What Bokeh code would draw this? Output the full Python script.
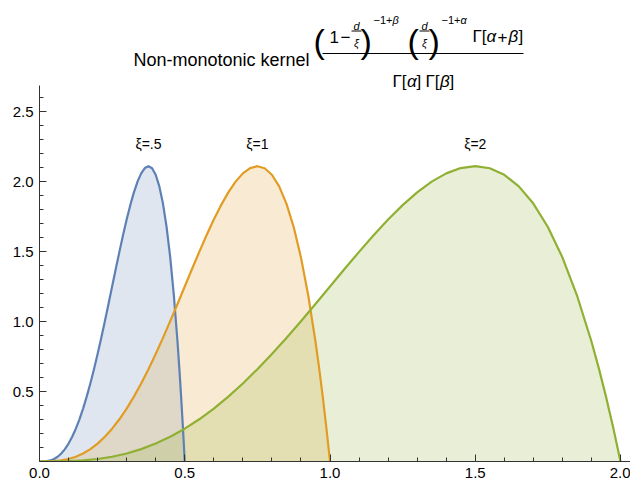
from bokeh.plotting import figure
from bokeh.models import Range1d, FixedTicker, PrintfTickFormatter, ColumnDataSource
from bokeh.embed import file_html
from bokeh.resources import INLINE
from bokeh.core.properties import value

# ---- data ----
xi_values = [0.5, 1.0, 2.0]
xi_labels = ["ξ=.5", "ξ=1", "ξ=2"]
line_colors = ["#5E81B5", "#E19C24", "#8FB032"]
label_y = 2.27
peak_fraction = 0.75

# sampling positions as a fraction of xi, and kernel heights
u = [0.0, 0.025, 0.05, 0.075, 0.1, 0.125, 0.15, 0.175, 0.2, 0.225, 0.25, 0.275,
     0.3, 0.325, 0.35, 0.375, 0.4, 0.425, 0.45, 0.475, 0.5, 0.525, 0.55, 0.575,
     0.6, 0.625, 0.65, 0.675, 0.7, 0.725, 0.75, 0.775, 0.8, 0.825, 0.85, 0.875,
     0.9, 0.925, 0.95, 0.9625, 0.975, 0.9875, 1.0]
kernel = [0.0, 0.0003, 0.0024, 0.0078, 0.018, 0.0342, 0.0574, 0.0884, 0.128, 0.1766,
          0.2344, 0.3016, 0.378, 0.4634, 0.5574, 0.6592, 0.768, 0.8828, 1.0024, 1.1253,
          1.25, 1.3747, 1.4974, 1.6159, 1.728, 1.8311, 1.9224, 1.9991, 2.058, 2.0959,
          2.1094, 2.0947, 2.048, 1.9653, 1.8424, 1.6748, 1.458, 1.1872, 0.8574, 0.6688,
          0.4634, 0.2407, 0.0]

x_ticks = [0.0, 0.5, 1.0, 1.5, 2.0]
x_minor = [0.1, 0.2, 0.3, 0.4, 0.6, 0.7, 0.8, 0.9, 1.1, 1.2, 1.3, 1.4, 1.6, 1.7, 1.8, 1.9]
y_ticks = [0.5, 1.0, 1.5, 2.0, 2.5]
y_minor = [0.1, 0.2, 0.3, 0.4, 0.6, 0.7, 0.8, 0.9, 1.1, 1.2, 1.3, 1.4, 1.6, 1.7, 1.8, 1.9,
           2.1, 2.2, 2.3, 2.4, 2.6]
y_axis_top = 2.686

FONT = value("Liberation Sans")
AX = "#333333"

# frame spans picture x 39..630 and y 0..461 (140 px per y unit)
p = figure(width=630, height=485, x_range=Range1d(0, 2.0344), y_range=Range1d(0, 3.2929),
           output_backend="svg", toolbar_location=None,
           min_border_left=39, min_border_right=0, min_border_top=0, min_border_bottom=24)
p.grid.visible = False
p.outline_line_color = None

# pixel-like ranges for placing the formula title inside the upper part of the frame
p.extra_x_ranges = {"px": Range1d(39, 630)}
p.extra_y_ranges = {"px": Range1d(461, 0)}

for xi, col in zip(xi_values, line_colors):
    xs = [xi * v for v in u]
    p.varea(x=xs, y1=[0.0] * len(xs), y2=kernel, fill_color=col, fill_alpha=0.2)
for xi, col in zip(xi_values, line_colors):
    xs = [xi * v for v in u]
    p.line(xs, kernel, line_color=col, line_width=2.2, line_join="round")

p.text(x=[xi * peak_fraction for xi in xi_values], y=[label_y] * 3, text=xi_labels,
       text_font=FONT, text_font_size=value("14px"), text_align="center",
       text_baseline="middle", text_color="black")

# ---- formula title ----
pieces = dict(
    x=[133, 313, 329, 340, 356, 356, 360, 373, 392, 407, 424, 424, 428, 441, 460,
       472, 486, 497, 508, 518,
       392, 406.5, 416, 425, 439.5, 449],
    y=[59, 40, 36, 36, 25, 42, 40, 19, 19, 40, 25, 42, 40, 19, 19,
       36, 36, 36, 36, 36,
       81, 81, 81, 81, 81, 81],
    text=["Non-monotonic kernel", "(", "1", "\u2212", "d", "ξ", ")", "\u22121+", "β",
          "(", "d", "ξ", ")", "\u22121+", "α",
          "Γ[", "α", "+", "β", "]",
          "Γ[", "α", "]", "Γ[", "β", "]"],
    size=["18px", "34px", "17px", "17px", "11px", "11px", "34px", "11px", "11px",
          "34px", "11px", "11px", "34px", "11px", "11px",
          "17px", "17px", "17px", "17px", "17px",
          "17px", "17px", "17px", "17px", "17px", "17px"],
    style=["normal", "normal", "normal", "normal", "italic", "italic", "normal", "normal", "italic",
           "normal", "italic", "italic", "normal", "normal", "italic",
           "normal", "italic", "normal", "italic", "normal",
           "normal", "italic", "normal", "normal", "italic", "normal"],
    align=["left", "left", "left", "left", "center", "center", "left", "left", "left",
           "left", "center", "center", "left", "left", "left",
           "left", "left", "left", "left", "left",
           "left", "left", "left", "left", "left", "left"],
)
p.text(x="x", y="y", text="text", source=ColumnDataSource(pieces),
       x_range_name="px", y_range_name="px",
       text_font=FONT, text_font_size="size", text_font_style="style",
       text_align="align", text_baseline="alphabetic", text_color="black")
p.segment(x0=[322, 351, 419], y0=[53, 30.5, 30.5], x1=[523, 361, 429], y1=[53, 30.5, 30.5],
          x_range_name="px", y_range_name="px", line_color="black", line_width=1)

# ---- axes ----
for ax in (p.xaxis[0], p.yaxis[0]):
    ax.axis_line_color = AX
    ax.major_tick_line_color = AX
    ax.minor_tick_line_color = AX
    ax.major_tick_in = 7
    ax.major_tick_out = 0
    ax.minor_tick_in = 4
    ax.minor_tick_out = 0
    ax.major_label_text_font = "Liberation Sans"
    ax.major_label_text_font_size = "15px"
    ax.major_label_text_color = "black"
    ax.formatter = PrintfTickFormatter(format="%.1f")

p.xaxis.ticker = FixedTicker(ticks=x_ticks, minor_ticks=x_minor)
p.yaxis.ticker = FixedTicker(ticks=y_ticks, minor_ticks=y_minor)
p.yaxis.bounds = (0, y_axis_top)
p.xaxis.major_label_standoff = 6
p.yaxis.major_label_standoff = 6

open("out.html", "w").write(file_html(p, INLINE))
